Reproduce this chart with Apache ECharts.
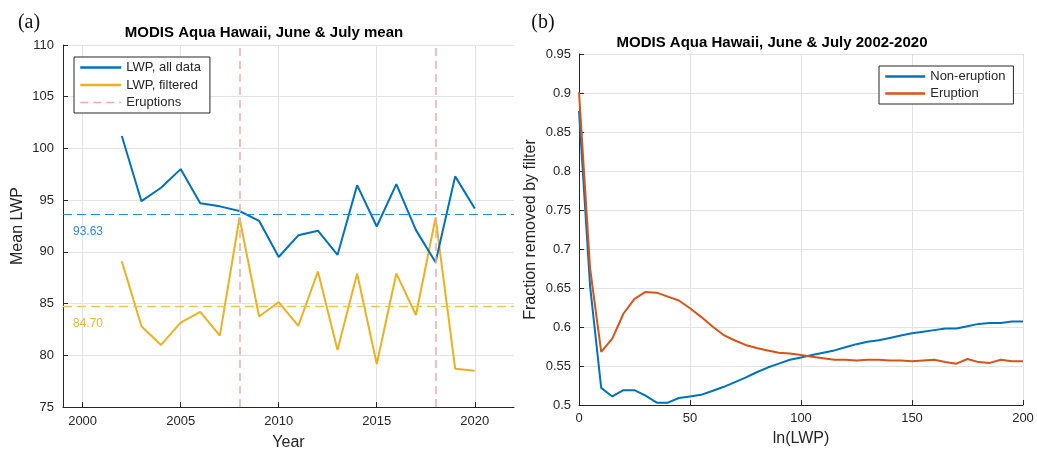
<!DOCTYPE html>
<html>
<head>
<meta charset="utf-8">
<script src="https://cdn.jsdelivr.net/npm/echarts@6/dist/echarts.min.js"></script>
<style>
html,body{margin:0;padding:0;background:#fff;}
#chart{width:1037px;height:453px;}
</style>
</head>
<body>
<div id="chart"></div>
<script>
// ---- Panel (a) data ----
const years = [2002,2003,2004,2005,2006,2007,2008,2009,2010,2011,2012,2013,2014,2015,2016,2017,2018,2019,2020];
const lwpAll = [101.2,94.9,96.2,98.0,94.7,94.4,93.95,93.0,89.5,91.6,92.05,89.7,96.45,92.45,96.55,92.1,89.0,97.3,94.2];
const lwpFiltered = [89.1,82.8,81.0,83.15,84.2,81.9,93.3,83.75,85.15,82.85,88.1,80.5,87.9,79.15,87.9,83.9,93.3,78.7,78.5];
const eruptionYears = [2008, 2018];
const meanAll = 93.63;
const meanFiltered = 84.70;
const yearTicks = [2000, 2005, 2010, 2015, 2020];

// ---- Panel (b) data ----
const lnLwp = [0,5,10,15,20,25,30,35,40,45,50,55,60,65,70,75,80,85,90,95,100,105,110,115,120,125,130,135,140,145,150,155,160,165,170,175,180,185,190,195,200];
const fracNonEruption = [0.877,0.652,0.522,0.511,0.519,0.519,0.512,0.503,0.503,0.509,0.511,0.513,0.518,0.523,0.529,0.535,0.542,0.548,0.553,0.558,0.561,0.564,0.567,0.570,0.574,0.578,0.581,0.583,0.586,0.589,0.592,0.594,0.596,0.598,0.598,0.601,0.604,0.605,0.605,0.607,0.607];
const fracEruption = [0.901,0.675,0.568,0.585,0.617,0.636,0.645,0.644,0.639,0.634,0.624,0.613,0.601,0.590,0.583,0.577,0.573,0.570,0.567,0.566,0.564,0.562,0.560,0.558,0.558,0.557,0.558,0.558,0.557,0.557,0.556,0.557,0.558,0.555,0.553,0.559,0.555,0.554,0.558,0.556,0.556];

const FONT = '"Liberation Sans", Arial, Helvetica, sans-serif';
const AX = '#262626';
const GRID = '#e3e3e3';
const BLUE = '#0072BD', YELLOW = '#EDB120', ORANGE = '#D95319';
const PINK = '#f2aaaa';
const MEAN_BLUE = '#2a8ad8', MEAN_YELLOW = '#f3c35a';

const chart = echarts.init(document.getElementById('chart'), null, {renderer: 'canvas'});

function axisCommon() {
  return {
    axisLine: {show: true, onZero: false, lineStyle: {color: AX, width: 1}},
    axisTick: {show: true, inside: true, length: 5, lineStyle: {color: AX, width: 1}},
    axisLabel: {color: AX, fontFamily: FONT, fontSize: 13},
    splitLine: {show: true, lineStyle: {color: GRID, width: 1}},
    nameTextStyle: {color: AX, fontFamily: FONT, fontSize: 16},
    nameLocation: 'middle'
  };
}

const option = {
  animation: false,
  backgroundColor: '#fff',
  grid: [
    {left: 63, top: 45, width: 451, height: 362, containLabel: false, outerBoundsMode: 'none'},
    {left: 579, top: 54, width: 444, height: 351, containLabel: false, outerBoundsMode: 'none'}
  ],
  xAxis: [
    Object.assign(axisCommon(), {
      gridIndex: 0, type: 'value', min: 1999, max: 2022,
      name: 'Year', nameGap: 28,
      axisTick: {show: true, inside: true, length: 5, lineStyle: {color: AX, width: 1}, customValues: yearTicks},
      axisLabel: {color: AX, fontFamily: FONT, fontSize: 13, margin: 8, customValues: yearTicks,
                  formatter: v => String(v)}
    }),
    Object.assign(axisCommon(), {
      gridIndex: 1, type: 'value', min: 0, max: 200, interval: 50,
      name: 'ln(LWP)', nameGap: 26,
      axisLabel: {color: AX, fontFamily: FONT, fontSize: 13, margin: 7}
    })
  ],
  yAxis: [
    Object.assign(axisCommon(), {
      gridIndex: 0, type: 'value', min: 75, max: 110, interval: 5,
      name: 'Mean LWP', nameGap: 37,
      axisLabel: {color: AX, fontFamily: FONT, fontSize: 13, margin: 9}
    }),
    Object.assign(axisCommon(), {
      gridIndex: 1, type: 'value', min: 0.5, max: 0.95, interval: 0.05,
      name: 'Fraction removed by filter', nameGap: 40,
      axisLabel: {color: AX, fontFamily: FONT, fontSize: 13, margin: 8}
    })
  ],
  legend: [
    {
      data: [
        {name: 'LWP, all data', lineStyle: {width: 2.5}},
        {name: 'LWP, filtered', lineStyle: {width: 2.5}},
        {name: 'Eruptions', lineStyle: {width: 1.5}}
      ],
      orient: 'vertical', left: 74, top: 57,
      itemWidth: 41, itemHeight: 12, itemGap: 4.5,
      padding: [4, 9, 4, 5],
      borderColor: AX, borderWidth: 1, backgroundColor: '#fff',
      itemStyle: {opacity: 0},
      textStyle: {color: AX, fontFamily: FONT, fontSize: 13},
      selectedMode: false
    },
    {
      data: [
        {name: 'Non-eruption', lineStyle: {width: 2.5}},
        {name: 'Eruption', lineStyle: {width: 2.5}}
      ],
      orient: 'vertical', left: 879, top: 66,
      itemWidth: 40, itemHeight: 11, itemGap: 4,
      padding: [4, 8, 4, 5],
      borderColor: AX, borderWidth: 1, backgroundColor: '#fff',
      itemStyle: {opacity: 0},
      textStyle: {color: AX, fontFamily: FONT, fontSize: 13},
      selectedMode: false
    }
  ],
  series: [
    {
      name: 'Eruptions', type: 'line', xAxisIndex: 0, yAxisIndex: 0,
      data: [], symbol: 'none', showSymbol: false,
      lineStyle: {color: PINK, width: 1.5, type: [8, 5]},
      itemStyle: {color: PINK},
      markLine: {
        silent: true, symbol: ['none', 'none'], label: {show: false},
        lineStyle: {color: PINK, width: 1.5, type: [8, 5]},
        data: eruptionYears.map(y => ({xAxis: y}))
      },
      z: 1
    },
    {
      name: 'LWP, all data', type: 'line', xAxisIndex: 0, yAxisIndex: 0,
      data: years.map((y, i) => [y, lwpAll[i]]),
      symbol: 'none', showSymbol: false,
      lineStyle: {color: BLUE, width: 2}, itemStyle: {color: BLUE},
      markLine: {
        silent: true, symbol: ['none', 'none'],
        itemStyle: {color: MEAN_BLUE},
        lineStyle: {color: MEAN_BLUE, width: 1.2, type: [9, 5], opacity: 1},
        label: {show: true, position: 'insideStartBottom', formatter: meanAll.toFixed(2),
                color: MEAN_BLUE, fontFamily: FONT, fontSize: 12, distance: [10, 11]},
        data: [{yAxis: meanAll, lineStyle: {color: MEAN_BLUE}}]
      },
      z: 3
    },
    {
      name: 'LWP, filtered', type: 'line', xAxisIndex: 0, yAxisIndex: 0,
      data: years.map((y, i) => [y, lwpFiltered[i]]),
      symbol: 'none', showSymbol: false,
      lineStyle: {color: YELLOW, width: 2}, itemStyle: {color: YELLOW},
      markLine: {
        silent: true, symbol: ['none', 'none'],
        itemStyle: {color: MEAN_YELLOW},
        lineStyle: {color: MEAN_YELLOW, width: 1.3, type: [9, 5], opacity: 1},
        label: {show: true, position: 'insideStartBottom', formatter: meanFiltered.toFixed(2),
                color: '#efb52e', fontFamily: FONT, fontSize: 12, distance: [10, 11]},
        data: [{yAxis: meanFiltered, lineStyle: {color: MEAN_YELLOW}}]
      },
      z: 2
    },
    {
      name: 'Non-eruption', type: 'line', xAxisIndex: 1, yAxisIndex: 1,
      data: lnLwp.map((x, i) => [x, fracNonEruption[i]]),
      symbol: 'none', showSymbol: false,
      lineStyle: {color: BLUE, width: 2}, itemStyle: {color: BLUE}, z: 2
    },
    {
      name: 'Eruption', type: 'line', xAxisIndex: 1, yAxisIndex: 1,
      data: lnLwp.map((x, i) => [x, fracEruption[i]]),
      symbol: 'none', showSymbol: false,
      lineStyle: {color: ORANGE, width: 2}, itemStyle: {color: ORANGE}, z: 3
    }
  ],
  graphic: [
    {type: 'text', x: 29, y: 23, style: {text: '(a)', fill: '#111', font: '20px "Liberation Serif", "DejaVu Serif", serif', align: 'center', verticalAlign: 'middle'}},
    {type: 'text', x: 543, y: 23, style: {text: '(b)', fill: '#111', font: '20px "Liberation Serif", "DejaVu Serif", serif', align: 'center', verticalAlign: 'middle'}},
    {type: 'text', x: 264, y: 33, style: {text: 'MODIS Aqua Hawaii, June & July mean', fill: '#000', font: 'bold 15px ' + FONT, align: 'center', verticalAlign: 'middle'}},
    {type: 'text', x: 772, y: 43, style: {text: 'MODIS Aqua Hawaii, June & July 2002-2020', fill: '#000', font: 'bold 15px ' + FONT, align: 'center', verticalAlign: 'middle'}}
  ]
};

chart.setOption(option);
</script>
</body>
</html>
